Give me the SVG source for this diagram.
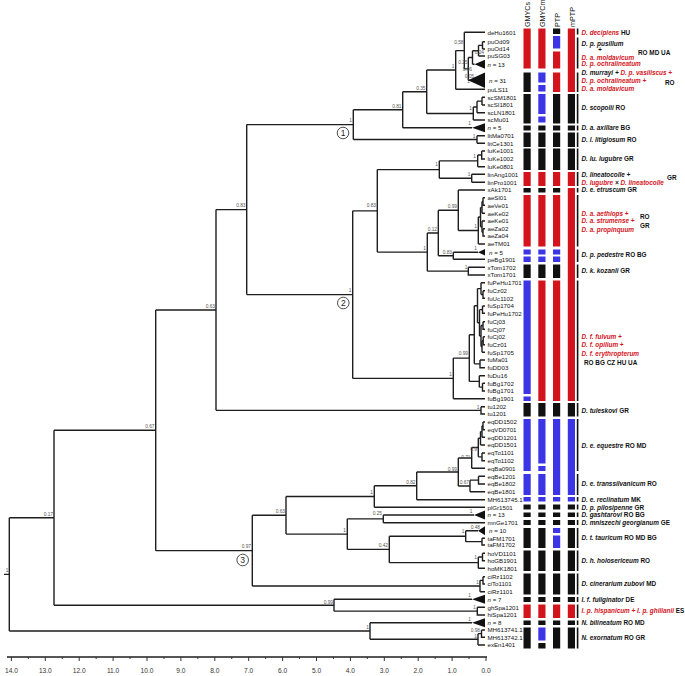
<svg xmlns="http://www.w3.org/2000/svg" width="685" height="676" viewBox="0 0 685 676">
<style>
.br{fill:none;stroke:#1e1e1e;stroke-width:1.4}
.tri{fill:#111}
.tip{font-family:"Liberation Sans",Arial,sans-serif;font-size:6.15px;fill:#111}
.sup{font-family:"Liberation Sans",Arial,sans-serif;font-size:4.8px;fill:#555;text-anchor:end}
.sp{font-family:"Liberation Sans",Arial,sans-serif;font-size:6.4px;font-style:italic;font-weight:bold;fill:#111}
.cc{font-style:normal}
.red{fill:#d3141c}
.r{fill:#d3141c}.b{fill:#3b35e6}.k{fill:#111}
.hd{font-family:"Liberation Sans",Arial,sans-serif;font-size:7.2px;fill:#111}
.ax{font-family:"Liberation Sans",Arial,sans-serif;font-size:6.6px;fill:#333;text-anchor:middle}
.circ{fill:#fff;stroke:#222;stroke-width:0.8}
.cn{font-family:"Liberation Sans",Arial,sans-serif;font-size:8.5px;fill:#222;text-anchor:middle}
</style>
<g id="connectors">
<path class="br" d="M4 574.4H9.3M9.3 517.75V631M9.3 517.75H54M9.3 631H370"/>
<path class="br" d="M54 430.3V605.2M54 430.3H155.7M54 605.2H334"/>
<path class="br" d="M155.7 309.98V550.65M155.7 309.98H216M155.7 550.65H252.3"/>
<path class="br" d="M216 209.6V410.35M216 209.6H246.7M216 410.35H481"/>
<path class="br" d="M246.7 124.6V294.6M246.7 124.6H353.3M246.7 294.6H352.7"/>
<path class="br" d="M353.3 109.7V139.5M353.3 109.7H402.7M353.3 139.5H477"/>
<path class="br" d="M402.7 91.73V127.7M402.7 91.73H426.7M402.7 127.7H472"/>
<path class="br" d="M426.7 70V113.46M426.7 70H455.7M426.7 113.46H473.3"/>
<path class="br" d="M455.7 50.6V89.3M455.7 50.6H464.3M455.7 89.3H485"/>
<path class="br" d="M464.3 32.3V68.89M464.3 32.3H485M464.3 68.89H468.3"/>
<path class="br" d="M468.3 57.49V80.3M468.3 57.49H472.5M468.3 80.3H470"/>
<path class="br" d="M472.5 50.675V64.3M472.5 50.675H478.5M472.5 64.3H474.5"/>
<path class="br" d="M478.5 45.35V56M478.5 45.35H482.5M478.5 56H485"/>
<path class="br" d="M482.5 41.7V49M482.5 41.7H485M482.5 49H485"/>
<path class="br" d="M473.3 106.925V120M473.3 106.925H477M473.3 120H485"/>
<path class="br" d="M477 101.15V112.7M477 101.15H482M477 112.7H485"/>
<path class="br" d="M482 97.3V105M482 97.3H485M482 105H485"/>
<path class="br" d="M477 135.7V143.3M477 135.7H485M477 143.3H485"/>
<path class="br" d="M352.7 210.83V378.4M352.7 210.83H377.3M352.7 378.4H453.3"/>
<path class="br" d="M377.3 169.575V252.09M377.3 169.575H439.3M377.3 252.09H427.3"/>
<path class="br" d="M439.3 160.85V178.3M439.3 160.85H477.7M439.3 178.3H471.7"/>
<path class="br" d="M477.7 155V166.7M477.7 155H481.7M477.7 166.7H485"/>
<path class="br" d="M481.7 151V159H485M481.7 151H485"/>
<path class="br" d="M471.7 174.3V182.3M471.7 174.3H485M471.7 182.3H485"/>
<path class="br" d="M427.3 233.03V271.15M427.3 233.03H438.3M427.3 271.15H468.3"/>
<path class="br" d="M438.3 210.26V255.8M438.3 210.26H458.3M438.3 255.8H453.3"/>
<path class="br" d="M458.3 190V230.52M458.3 190H485M458.3 230.52H478.3"/>
<path class="br" d="M478.3 217.04V244M478.3 217.04H480.5M478.3 244H485"/>
<path class="br" d="M480.5 207.4V226.675M480.5 207.4H482M480.5 226.675H482"/>
<path class="br" d="M482 201.5V213.3M482 201.5H483M482 213.3H485"/>
<path class="br" d="M483 197.7V205.3H485M483 197.7H485"/>
<path class="br" d="M482 221V232.35M482 221H485M482 232.35H483"/>
<path class="br" d="M483 228.7V236H485M483 228.7H485"/>
<path class="br" d="M453.3 252.3V259.3M453.3 252.3H478M453.3 259.3H485"/>
<path class="br" d="M468.3 267.3V275H485M468.3 267.3H485"/>
<path class="br" d="M453.3 358.1V398.7M453.3 358.1H469.3M453.3 398.7H485"/>
<path class="br" d="M469.3 334.8V381.4M469.3 334.8H474.3M469.3 381.4H479.3"/>
<path class="br" d="M474.3 305.7V363.85M474.3 305.7H477.5M474.3 363.85H480"/>
<path class="br" d="M477.5 288.6V322.8M477.5 288.6H481M477.5 322.8H479.5"/>
<path class="br" d="M481 282.7V294.5M481 282.7H485M481 294.5H483"/>
<path class="br" d="M483 290.7V298.3H485M483 290.7H485"/>
<path class="br" d="M479.5 309.65V336M479.5 309.65H482.5M479.5 336H481"/>
<path class="br" d="M482.5 306V313.3H485M482.5 306H485"/>
<path class="br" d="M481 325.5V346.5M481 325.5H483M481 346.5H482"/>
<path class="br" d="M483 321.7V329.3H485M483 321.7H485"/>
<path class="br" d="M482 340.7V352.3M482 340.7H483.2M482 352.3H485"/>
<path class="br" d="M483.2 336.7V344.7H485M483.2 336.7H485"/>
<path class="br" d="M480 360V367.7H485M480 360H485"/>
<path class="br" d="M479.3 375.7V387.15M479.3 375.7H485M479.3 387.15H482.5"/>
<path class="br" d="M482.5 383.3V391H485M482.5 383.3H485"/>
<path class="br" d="M481 406.7V414H485M481 406.7H485"/>
<path class="br" d="M252.3 515.3V586M252.3 515.3H286M252.3 586H480"/>
<path class="br" d="M286 496.55V534.1M286 496.55H374.3M286 534.1H347.3"/>
<path class="br" d="M374.3 485.8V507.3M374.3 485.8H416.7M374.3 507.3H485"/>
<path class="br" d="M416.7 471.93V499.7M416.7 471.93H458.3M416.7 499.7H485"/>
<path class="br" d="M458.3 457.93V485.93M458.3 457.93H471.7M458.3 485.93H470"/>
<path class="br" d="M471.7 447.57V468.3M471.7 447.57H478.3M471.7 468.3H485"/>
<path class="br" d="M478.3 438.29V456.85M478.3 438.29H480.5M478.3 456.85H482"/>
<path class="br" d="M480.5 431.575V445M480.5 431.575H482M480.5 445H485"/>
<path class="br" d="M482 425.85V437.3M482 425.85H483M482 437.3H485"/>
<path class="br" d="M483 422V429.7H485M483 422H485"/>
<path class="br" d="M482 453V460.7H485M482 453H485"/>
<path class="br" d="M470 480.15V491.7M470 480.15H478.5M470 491.7H485"/>
<path class="br" d="M478.5 476.3V484H485M478.5 476.3H485"/>
<path class="br" d="M347.3 518.85V549.4M347.3 518.85H383.3M347.3 549.4H389.3"/>
<path class="br" d="M383.3 515V522.7M383.3 515H474M383.3 522.7H485"/>
<path class="br" d="M389.3 536.18V562.65M389.3 536.18H465.7M389.3 562.65H478.3"/>
<path class="br" d="M465.7 530.7V541.65M465.7 530.7H478M465.7 541.65H482"/>
<path class="br" d="M482 538.3V545H485M482 538.3H485"/>
<path class="br" d="M478.3 557V568.3M478.3 557H482.5M478.3 568.3H485"/>
<path class="br" d="M482.5 553.3V560.7H485M482.5 553.3H485"/>
<path class="br" d="M480 580.35V591.7M480 580.35H483M480 591.7H485"/>
<path class="br" d="M483 576.7V584H485M483 576.7H485"/>
<path class="br" d="M334 599.3V611.15M334 599.3H472M334 611.15H477.3"/>
<path class="br" d="M477.3 607.3V615H485M477.3 607.3H485"/>
<path class="br" d="M370 622.7V639.3M370 622.7H472M370 639.3H478"/>
<path class="br" d="M478 633.65V645M478 633.65H481.5M478 645H485"/>
<path class="br" d="M481.5 630V637.3H485M481.5 630H485"/>
<polygon class="tri" points="474.5,64.3 485,59.8 485,68.8"/>
<polygon class="tri" points="468,80.3 485,72.5 485,88"/>
<polygon class="tri" points="472,127.7 485,123.2 485,132.2"/>
<polygon class="tri" points="478,252.3 485,249.1 485,255.5"/>
<polygon class="tri" points="474,515 485,510.5 485,519.5"/>
<polygon class="tri" points="478,530.7 485,526.2 485,535.2"/>
<polygon class="tri" points="472,599.3 485,594.8 485,603.8"/>
<polygon class="tri" points="472,622.7 485,618.2 485,627.2"/>
</g>
<g id="support-values">
<text class="sup" x="8.5" y="572">1</text>
<text class="sup" x="53" y="515.5">0.17</text>
<text class="sup" x="154.5" y="428">0.67</text>
<text class="sup" x="215" y="307.5">0.63</text>
<text class="sup" x="245.5" y="207">0.83</text>
<text class="sup" x="352" y="122.3">1</text>
<text class="sup" x="401.5" y="107.5">0.81</text>
<text class="sup" x="425.5" y="89.5">0.35</text>
<text class="sup" x="454.5" y="68">1</text>
<text class="sup" x="463.5" y="44">0.58</text>
<text class="sup" x="484" y="53.5">0.24</text>
<text class="sup" x="467.5" y="63.5">0.25</text>
<text class="sup" x="472" y="71">0.96</text>
<text class="sup" x="474" y="78">0.05</text>
<text class="sup" x="470" y="82.5">1</text>
<text class="sup" x="472" y="110">1</text>
<text class="sup" x="471" y="125">1</text>
<text class="sup" x="475.5" y="138">1</text>
<text class="sup" x="351.5" y="292">1</text>
<text class="sup" x="376" y="207">0.83</text>
<text class="sup" x="438" y="166">1</text>
<text class="sup" x="476" y="157.5">1</text>
<text class="sup" x="470.5" y="176">1</text>
<text class="sup" x="426" y="250">1</text>
<text class="sup" x="437" y="231">0.12</text>
<text class="sup" x="457" y="207.5">0.99</text>
<text class="sup" x="477" y="227.5">1</text>
<text class="sup" x="452" y="254">0.83</text>
<text class="sup" x="477" y="250">1</text>
<text class="sup" x="467.5" y="269">1</text>
<text class="sup" x="452" y="376">1</text>
<text class="sup" x="468" y="355">0.99</text>
<text class="sup" x="479.5" y="408.5">1</text>
<text class="sup" x="251" y="548">0.97</text>
<text class="sup" x="285" y="512.5">0.63</text>
<text class="sup" x="373" y="494">1</text>
<text class="sup" x="415.5" y="484">0.82</text>
<text class="sup" x="457" y="470.5">0.99</text>
<text class="sup" x="470.5" y="458.5">0.71</text>
<text class="sup" x="477" y="451">0.9</text>
<text class="sup" x="469" y="484">0.67</text>
<text class="sup" x="382" y="515">0.25</text>
<text class="sup" x="472.5" y="513">1</text>
<text class="sup" x="346" y="532">1</text>
<text class="sup" x="388" y="547">0.42</text>
<text class="sup" x="464.5" y="533">1</text>
<text class="sup" x="480" y="529">0.48</text>
<text class="sup" x="477" y="558.5">1</text>
<text class="sup" x="479" y="583.5">1</text>
<text class="sup" x="333" y="603.5">0.99</text>
<text class="sup" x="471" y="597">1</text>
<text class="sup" x="476" y="609">1</text>
<text class="sup" x="369" y="628.5">1</text>
<text class="sup" x="471" y="620.5">1</text>
<text class="sup" x="480" y="632">0.98</text>
<text class="sup" x="477" y="637.5">1</text>
</g>
<g id="clade-markers">
<g id="clade-1"><circle class="circ" cx="343" cy="133" r="5.8"/><text class="cn" x="343" y="136">1</text></g>
<g id="clade-2"><circle class="circ" cx="343.3" cy="303" r="5.8"/><text class="cn" x="343.3" y="306">2</text></g>
<g id="clade-3"><circle class="circ" cx="242.7" cy="560" r="5.8"/><text class="cn" x="242.7" y="563">3</text></g>
</g>
<g id="tip-labels" class="tip">
<text x="487.5" y="34.5">deHu1601</text>
<text x="487.5" y="43.9">puOd09</text>
<text x="487.5" y="51.2">puOd14</text>
<text x="487.5" y="58.2">puSG03</text>
<text x="487.5" y="66.5"><tspan font-style="italic">n</tspan> = 13</text>
<text x="489" y="82.5"><tspan font-style="italic">n</tspan> = 31</text>
<text x="487.5" y="91.5">puLS11</text>
<text x="487.5" y="99.5">scSM1801</text>
<text x="487.5" y="107.2">scSI1801</text>
<text x="487.5" y="114.9">scLN1801</text>
<text x="487.5" y="122.2">scMu01</text>
<text x="487.5" y="129.9"><tspan font-style="italic">n</tspan> = 5</text>
<text x="487.5" y="137.9">litMa0701</text>
<text x="487.5" y="145.5">litCe1301</text>
<text x="487.5" y="153.2">luKe1001</text>
<text x="487.5" y="161.2">luKe1002</text>
<text x="487.5" y="168.9">luKe0801</text>
<text x="487.5" y="176.5">linAng1001</text>
<text x="487.5" y="184.5">linPro1001</text>
<text x="487.5" y="192.2">xAk1701</text>
<text x="487.5" y="199.9">aeSl01</text>
<text x="487.5" y="207.5">aeVe01</text>
<text x="487.5" y="215.5">aeKe02</text>
<text x="487.5" y="223.2">aeKe01</text>
<text x="487.5" y="230.9">aeZa02</text>
<text x="487.5" y="238.2">aeZa04</text>
<text x="487.5" y="246.2">aeTM01</text>
<text x="489" y="254.5"><tspan font-style="italic">n</tspan> = 5</text>
<text x="487.5" y="261.5">peBg1901</text>
<text x="487.5" y="269.5">xTom1702</text>
<text x="487.5" y="277.2">xTom1701</text>
<text x="487.5" y="284.9">fuPeHu1701</text>
<text x="487.5" y="292.9">fuCz02</text>
<text x="487.5" y="300.5">fuUc1102</text>
<text x="487.5" y="308.2">fuSp1704</text>
<text x="487.5" y="315.5">fuPeHu1702</text>
<text x="487.5" y="323.9">fuCj03</text>
<text x="487.5" y="331.5">fuCj07</text>
<text x="487.5" y="338.9">fuCj02</text>
<text x="487.5" y="346.9">fuCz01</text>
<text x="487.5" y="354.5">fuSp1705</text>
<text x="487.5" y="362.2">fuMa01</text>
<text x="487.5" y="369.9">fuDD03</text>
<text x="487.5" y="377.9">fuDu16</text>
<text x="487.5" y="385.5">fuBg1702</text>
<text x="487.5" y="393.2">fuBg1701</text>
<text x="487.5" y="400.9">fuBg1901</text>
<text x="487.5" y="408.9">tu1202</text>
<text x="487.5" y="416.2">tu1201</text>
<text x="487.5" y="424.2">eqDD1502</text>
<text x="487.5" y="431.9">eqVD0701</text>
<text x="487.5" y="439.5">eqDD1201</text>
<text x="487.5" y="447.2">eqDD1501</text>
<text x="487.5" y="455.2">eqTo1101</text>
<text x="487.5" y="462.9">eqTo1102</text>
<text x="487.5" y="470.5">eqBa0901</text>
<text x="487.5" y="478.5">eqBe1201</text>
<text x="487.5" y="486.2">eqBe1802</text>
<text x="487.5" y="493.9">eqBe1801</text>
<text x="487.5" y="501.9">MH613745.1</text>
<text x="487.5" y="509.5">plGr1501</text>
<text x="487.5" y="517.2"><tspan font-style="italic">n</tspan> = 13</text>
<text x="487.5" y="524.9">mnGe1701</text>
<text x="489" y="532.9"><tspan font-style="italic">n</tspan> = 10</text>
<text x="487.5" y="540.5">taFM1701</text>
<text x="487.5" y="547.2">taFM1702</text>
<text x="487.5" y="555.5">hoVD1101</text>
<text x="487.5" y="562.9">hoGB1901</text>
<text x="487.5" y="570.5">hoMK1801</text>
<text x="487.5" y="578.9">ciRz1102</text>
<text x="487.5" y="586.2">ciTo1101</text>
<text x="487.5" y="593.9">ciRz1101</text>
<text x="487.5" y="601.5"><tspan font-style="italic">n</tspan> = 7</text>
<text x="487.5" y="609.5">ghSpa1201</text>
<text x="487.5" y="617.2">hiSpa1201</text>
<text x="487.5" y="624.9"><tspan font-style="italic">n</tspan> = 8</text>
<text x="487.5" y="632.2">MH613741.1</text>
<text x="487.5" y="639.5">MH613742.1</text>
<text x="487.5" y="647.2">exEn1401</text>
</g>
<g id="column-headers" class="hd">
<text transform="translate(530.2,27) rotate(-90)">GMYCs</text>
<text transform="translate(545.2,27) rotate(-90)">GMYCm</text>
<text transform="translate(559.7,27) rotate(-90)">PTP</text>
<text transform="translate(574.5,27) rotate(-90)">mPTP</text>
</g>
<g id="delimitation-bars">
<g id="col-GMYCs">
<rect class="r" x="523.5" y="28.5" width="7.2" height="40"/>
<rect class="k" x="523.5" y="72.5" width="7.2" height="19.5"/>
<rect class="k" x="523.5" y="94" width="7.2" height="29.5"/>
<rect class="k" x="523.5" y="125.5" width="7.2" height="5"/>
<rect class="k" x="523.5" y="132.5" width="7.2" height="14.5"/>
<rect class="k" x="523.5" y="148.5" width="7.2" height="21.5"/>
<rect class="r" x="523.5" y="172" width="7.2" height="14"/>
<rect class="k" x="523.5" y="188" width="7.2" height="4.5"/>
<rect class="r" x="523.5" y="195" width="7.2" height="51.5"/>
<rect class="b" x="523.5" y="249.5" width="7.2" height="5"/>
<rect class="b" x="523.5" y="256.5" width="7.2" height="5.5"/>
<rect class="k" x="523.5" y="264.5" width="7.2" height="13.5"/>
<rect class="b" x="523.5" y="280.5" width="7.2" height="113.5"/>
<rect class="b" x="523.5" y="396.5" width="7.2" height="4.5"/>
<rect class="k" x="523.5" y="403" width="7.2" height="13.5"/>
<rect class="b" x="523.5" y="419" width="7.2" height="52"/>
<rect class="b" x="523.5" y="474" width="7.2" height="21"/>
<rect class="b" x="523.5" y="497" width="7.2" height="4.5"/>
<rect class="k" x="523.5" y="504.5" width="7.2" height="5"/>
<rect class="k" x="523.5" y="512.5" width="7.2" height="4.5"/>
<rect class="k" x="523.5" y="520" width="7.2" height="5"/>
<rect class="k" x="523.5" y="528" width="7.2" height="20"/>
<rect class="k" x="523.5" y="550.5" width="7.2" height="20.5"/>
<rect class="k" x="523.5" y="573.5" width="7.2" height="21"/>
<rect class="k" x="523.5" y="597" width="7.2" height="5"/>
<rect class="r" x="523.5" y="604.5" width="7.2" height="13.5"/>
<rect class="k" x="523.5" y="620.5" width="7.2" height="4.5"/>
<rect class="k" x="523.5" y="627.5" width="7.2" height="21"/>
</g>
<g id="col-GMYCm">
<rect class="r" x="538.3" y="28.5" width="7.2" height="40"/>
<rect class="b" x="538.3" y="72.5" width="7.2" height="10"/>
<rect class="b" x="538.3" y="85" width="7.2" height="6.5"/>
<rect class="b" x="538.3" y="94" width="7.2" height="20"/>
<rect class="b" x="538.3" y="116.5" width="7.2" height="6"/>
<rect class="k" x="538.3" y="125.5" width="7.2" height="5"/>
<rect class="k" x="538.3" y="132.5" width="7.2" height="14.5"/>
<rect class="k" x="538.3" y="148.5" width="7.2" height="21.5"/>
<rect class="r" x="538.3" y="172" width="7.2" height="14"/>
<rect class="k" x="538.3" y="188" width="7.2" height="4.5"/>
<rect class="r" x="538.3" y="195" width="7.2" height="51.5"/>
<rect class="b" x="538.3" y="249.5" width="7.2" height="5"/>
<rect class="b" x="538.3" y="256.5" width="7.2" height="5.5"/>
<rect class="k" x="538.3" y="264.5" width="7.2" height="13.5"/>
<rect class="r" x="538.3" y="280.5" width="7.2" height="120.5"/>
<rect class="k" x="538.3" y="403" width="7.2" height="13.5"/>
<rect class="b" x="538.3" y="419" width="7.2" height="44.5"/>
<rect class="b" x="538.3" y="466" width="7.2" height="5"/>
<rect class="b" x="538.3" y="474" width="7.2" height="21"/>
<rect class="b" x="538.3" y="497" width="7.2" height="4.5"/>
<rect class="k" x="538.3" y="504.5" width="7.2" height="5"/>
<rect class="k" x="538.3" y="512.5" width="7.2" height="4.5"/>
<rect class="k" x="538.3" y="520" width="7.2" height="5"/>
<rect class="k" x="538.3" y="528" width="7.2" height="20"/>
<rect class="k" x="538.3" y="550.5" width="7.2" height="20.5"/>
<rect class="k" x="538.3" y="573.5" width="7.2" height="21"/>
<rect class="k" x="538.3" y="597" width="7.2" height="5"/>
<rect class="r" x="538.3" y="604.5" width="7.2" height="13.5"/>
<rect class="k" x="538.3" y="620.5" width="7.2" height="4.5"/>
<rect class="b" x="538.3" y="627.5" width="7.2" height="13"/>
<rect class="k" x="538.3" y="643" width="7.2" height="5.5"/>
</g>
<g id="col-PTP">
<rect class="k" x="553" y="28.5" width="7.2" height="5.5"/>
<rect class="b" x="553" y="36" width="7.2" height="12.5"/>
<rect class="r" x="553" y="51.5" width="7.2" height="17"/>
<rect class="r" x="553" y="72.5" width="7.2" height="19.5"/>
<rect class="k" x="553" y="94" width="7.2" height="29.5"/>
<rect class="k" x="553" y="125.5" width="7.2" height="5"/>
<rect class="k" x="553" y="132.5" width="7.2" height="14.5"/>
<rect class="k" x="553" y="148.5" width="7.2" height="21.5"/>
<rect class="r" x="553" y="172" width="7.2" height="14"/>
<rect class="k" x="553" y="188" width="7.2" height="4.5"/>
<rect class="r" x="553" y="195" width="7.2" height="51.5"/>
<rect class="b" x="553" y="249.5" width="7.2" height="5"/>
<rect class="b" x="553" y="256.5" width="7.2" height="5.5"/>
<rect class="k" x="553" y="264.5" width="7.2" height="13.5"/>
<rect class="r" x="553" y="280.5" width="7.2" height="120.5"/>
<rect class="k" x="553" y="403" width="7.2" height="13.5"/>
<rect class="b" x="553" y="419" width="7.2" height="76"/>
<rect class="b" x="553" y="497" width="7.2" height="4.5"/>
<rect class="k" x="553" y="504.5" width="7.2" height="5"/>
<rect class="k" x="553" y="512.5" width="7.2" height="4.5"/>
<rect class="k" x="553" y="520" width="7.2" height="5"/>
<rect class="b" x="553" y="528" width="7.2" height="5"/>
<rect class="b" x="553" y="535.5" width="7.2" height="12.5"/>
<rect class="k" x="553" y="550.5" width="7.2" height="20.5"/>
<rect class="k" x="553" y="573.5" width="7.2" height="21"/>
<rect class="k" x="553" y="597" width="7.2" height="5"/>
<rect class="r" x="553" y="604.5" width="7.2" height="13.5"/>
<rect class="k" x="553" y="620.5" width="7.2" height="4.5"/>
<rect class="k" x="553" y="627.5" width="7.2" height="21"/>
</g>
<g id="col-mPTP">
<rect class="r" x="567.8" y="28.5" width="7.2" height="63.5"/>
<rect class="k" x="567.8" y="94" width="7.2" height="29.5"/>
<rect class="k" x="567.8" y="125.5" width="7.2" height="5"/>
<rect class="k" x="567.8" y="132.5" width="7.2" height="14.5"/>
<rect class="k" x="567.8" y="148.5" width="7.2" height="21.5"/>
<rect class="r" x="567.8" y="172" width="7.2" height="14"/>
<rect class="r" x="567.8" y="188" width="7.2" height="213"/>
<rect class="k" x="567.8" y="403" width="7.2" height="13.5"/>
<rect class="b" x="567.8" y="419" width="7.2" height="76"/>
<rect class="b" x="567.8" y="497" width="7.2" height="4.5"/>
<rect class="k" x="567.8" y="504.5" width="7.2" height="5"/>
<rect class="k" x="567.8" y="512.5" width="7.2" height="4.5"/>
<rect class="k" x="567.8" y="520" width="7.2" height="5"/>
<rect class="k" x="567.8" y="528" width="7.2" height="20"/>
<rect class="k" x="567.8" y="550.5" width="7.2" height="20.5"/>
<rect class="k" x="567.8" y="573.5" width="7.2" height="21"/>
<rect class="k" x="567.8" y="597" width="7.2" height="5"/>
<rect class="r" x="567.8" y="604.5" width="7.2" height="13.5"/>
<rect class="k" x="567.8" y="620.5" width="7.2" height="4.5"/>
<rect class="k" x="567.8" y="627.5" width="7.2" height="21"/>
</g>
</g>
<g id="species">
<g id="sp-decipiens"><rect class="k" x="576.8" y="28.5" width="1.6" height="6"/><text class="sp" x="581.5" y="34.8"><tspan class="red">D. decipiens</tspan><tspan class="cc"> HU</tspan></text></g>
<g id="sp-pusillum"><rect class="k" x="576.8" y="37.5" width="1.6" height="31"/><text class="sp" x="581.5" y="45.6">D. p. pusillum</text><text class="sp" x="598" y="51.8">+</text><text class="sp red" x="581.5" y="59.6">D. a. moldavicum</text><text class="sp red" x="581.5" y="65.8">D. p. ochralineatum</text><text class="sp cc" x="638" y="54.6">RO MD UA</text></g>
<g id="sp-murrayi"><rect class="k" x="576.8" y="72.5" width="1.6" height="19.5"/><text class="sp" x="581.5" y="75">D. murrayi + <tspan class="red">D. p. vasiliscus +</tspan></text><text class="sp red" x="581.5" y="83.3">D. p. ochralineatum  +</text><text class="sp red" x="581.5" y="90.6">D. a. moldavicum</text><text class="sp cc" x="665" y="84.5">RO</text></g>
<g id="sp-scopolii"><rect class="k" x="576.8" y="94" width="1.6" height="29.5"/><text class="sp" x="581.5" y="110">D. scopolii <tspan class="cc">RO</tspan></text></g>
<g id="sp-axillare"><rect class="k" x="576.8" y="125.5" width="1.6" height="5"/><text class="sp" x="581.5" y="130">D. a. axillare <tspan class="cc">BG</tspan></text></g>
<g id="sp-litigiosum"><rect class="k" x="576.8" y="132.5" width="1.6" height="14.5"/><text class="sp" x="581.5" y="142.3">D. l. litigiosum <tspan class="cc">RO</tspan></text></g>
<g id="sp-lugubre"><rect class="k" x="576.8" y="148.5" width="1.6" height="21.5"/><text class="sp" x="581.5" y="161.3">D. lu. lugubre <tspan class="cc">GR</tspan></text></g>
<g id="sp-lineatocolle"><rect class="k" x="576.8" y="172" width="1.6" height="14"/><text class="sp" x="581.5" y="176.6">D. lineatocolle +</text><text class="sp" x="581.5" y="185"><tspan class="red">D. lugubre</tspan> × <tspan class="red">D. lineatocolle</tspan></text><text class="sp cc" x="667" y="180">GR</text></g>
<g id="sp-etruscum"><rect class="k" x="576.8" y="188" width="1.6" height="4.5"/><text class="sp" x="581.5" y="192.3">D. e. etruscum <tspan class="cc">GR</tspan></text></g>
<g id="sp-aethiops"><rect class="k" x="576.8" y="195" width="1.6" height="51.5"/><text class="sp red" x="581.5" y="215.6">D. a. aethiops +</text><text class="sp red" x="581.5" y="223.3">D. a. strumense +</text><text class="sp red" x="581.5" y="231.6">D. a. propinquum</text><text class="sp cc" x="640" y="219">RO</text><text class="sp cc" x="640" y="228">GR</text></g>
<g id="sp-pedestre"><rect class="k" x="576.8" y="249.5" width="1.6" height="12.5"/><text class="sp" x="581.5" y="257.3">D. p. pedestre <tspan class="cc">RO BG</tspan></text></g>
<g id="sp-kozanli"><rect class="k" x="576.8" y="264.5" width="1.6" height="13.5"/><text class="sp" x="581.5" y="273.3">D. k. kozanli <tspan class="cc">GR</tspan></text></g>
<g id="sp-fulvum"><rect class="k" x="576.8" y="280.5" width="1.6" height="120.5"/><text class="sp red" x="581.5" y="339">D. f. fulvum +</text><text class="sp red" x="581.5" y="347">D. f. opilium +</text><text class="sp red" x="581.5" y="355.6">D. f. erythropterum</text><text class="sp cc" x="584" y="365">RO BG CZ HU UA</text></g>
<g id="sp-tuleskovi"><rect class="k" x="576.8" y="403" width="1.6" height="13.5"/><text class="sp" x="581.5" y="413">D. tuleskovi <tspan class="cc">GR</tspan></text></g>
<g id="sp-equestre"><rect class="k" x="576.8" y="419" width="1.6" height="52"/><text class="sp" x="581.5" y="448">D. e. equestre  <tspan class="cc">RO MD</tspan></text></g>
<g id="sp-transsilvanicum"><rect class="k" x="576.8" y="474" width="1.6" height="21"/><text class="sp" x="581.5" y="486.3">D. e. transsilvanicum <tspan class="cc">RO</tspan></text></g>
<g id="sp-reclinatum"><rect class="k" x="576.8" y="497" width="1.6" height="4.5"/><text class="sp" x="581.5" y="502">D. e. reclinatum <tspan class="cc">MK</tspan></text></g>
<g id="sp-pilosipenne"><rect class="k" x="576.8" y="504.5" width="1.6" height="5"/><text class="sp" x="581.5" y="509.6">D. p. pilosipenne <tspan class="cc">GR</tspan></text></g>
<g id="sp-gashtarovi"><rect class="k" x="576.8" y="512.5" width="1.6" height="4.5"/><text class="sp" x="581.5" y="517.3">D. gashtarovi <tspan class="cc">RO BG</tspan></text></g>
<g id="sp-mniszechi"><rect class="k" x="576.8" y="520" width="1.6" height="5"/><text class="sp" x="581.5" y="525">D. mniszechi georgianum <tspan class="cc">GE</tspan></text></g>
<g id="sp-tauricum"><rect class="k" x="576.8" y="528" width="1.6" height="20"/><text class="sp" x="581.5" y="540">D. t. tauricum <tspan class="cc">RO MD  BG</tspan></text></g>
<g id="sp-holosericeum"><rect class="k" x="576.8" y="550.5" width="1.6" height="20.5"/><text class="sp" x="581.5" y="563">D. h. holosericeum <tspan class="cc">RO</tspan></text></g>
<g id="sp-cinerarium"><rect class="k" x="576.8" y="573.5" width="1.6" height="21"/><text class="sp" x="581.5" y="586.3">D. cinerarium zubovi <tspan class="cc">MD</tspan></text></g>
<g id="sp-fuliginator"><rect class="k" x="576.8" y="597" width="1.6" height="5"/><text class="sp" x="581.5" y="602.3">I. f. fuliginator  <tspan class="cc">DE</tspan></text></g>
<g id="sp-hispanicum"><rect class="k" x="576.8" y="604.5" width="1.6" height="13.5"/><text class="sp" x="581.5" y="613"><tspan class="red">I. p. hispanicum + I. p. ghilianii</tspan><tspan class="cc"> ES</tspan></text></g>
<g id="sp-bilineatum"><rect class="k" x="576.8" y="620.5" width="1.6" height="4.5"/><text class="sp" x="581.5" y="625">N. bilineatum <tspan class="cc">RO MD</tspan></text></g>
<g id="sp-exornatum"><rect class="k" x="576.8" y="627.5" width="1.6" height="21"/><text class="sp" x="581.5" y="639.6">N. exornatum <tspan class="cc">RO GR</tspan></text></g>
</g>
<g id="time-axis">
<path class="br" d="M7 657H487"/>
<path fill="none" stroke="#333" stroke-width="1" d="M486 657v4M452.1 657v4M418.2 657v4M384.3 657v4M350.4 657v4M316.5 657v4M282.6 657v4M248.7 657v4M214.8 657v4M180.9 657v4M147 657v4M113.1 657v4M79.2 657v4M45.3 657v4M11.4 657v4M469.05 657v2M435.15 657v2M401.25 657v2M367.35 657v2M333.45 657v2M299.55 657v2M265.65 657v2M231.75 657v2M197.85 657v2M163.95 657v2M130.05 657v2M96.15 657v2M62.25 657v2M28.35 657v2"/>
<text class="ax" x="486" y="673">0.0</text>
<text class="ax" x="452.1" y="673">1.0</text>
<text class="ax" x="418.2" y="673">2.0</text>
<text class="ax" x="384.3" y="673">3.0</text>
<text class="ax" x="350.4" y="673">4.0</text>
<text class="ax" x="316.5" y="673">5.0</text>
<text class="ax" x="282.6" y="673">6.0</text>
<text class="ax" x="248.7" y="673">7.0</text>
<text class="ax" x="214.8" y="673">8.0</text>
<text class="ax" x="180.9" y="673">9.0</text>
<text class="ax" x="147" y="673">10.0</text>
<text class="ax" x="113.1" y="673">11.0</text>
<text class="ax" x="79.2" y="673">12.0</text>
<text class="ax" x="45.3" y="673">13.0</text>
<text class="ax" x="11.4" y="673">14.0</text>
</g>
</svg>
